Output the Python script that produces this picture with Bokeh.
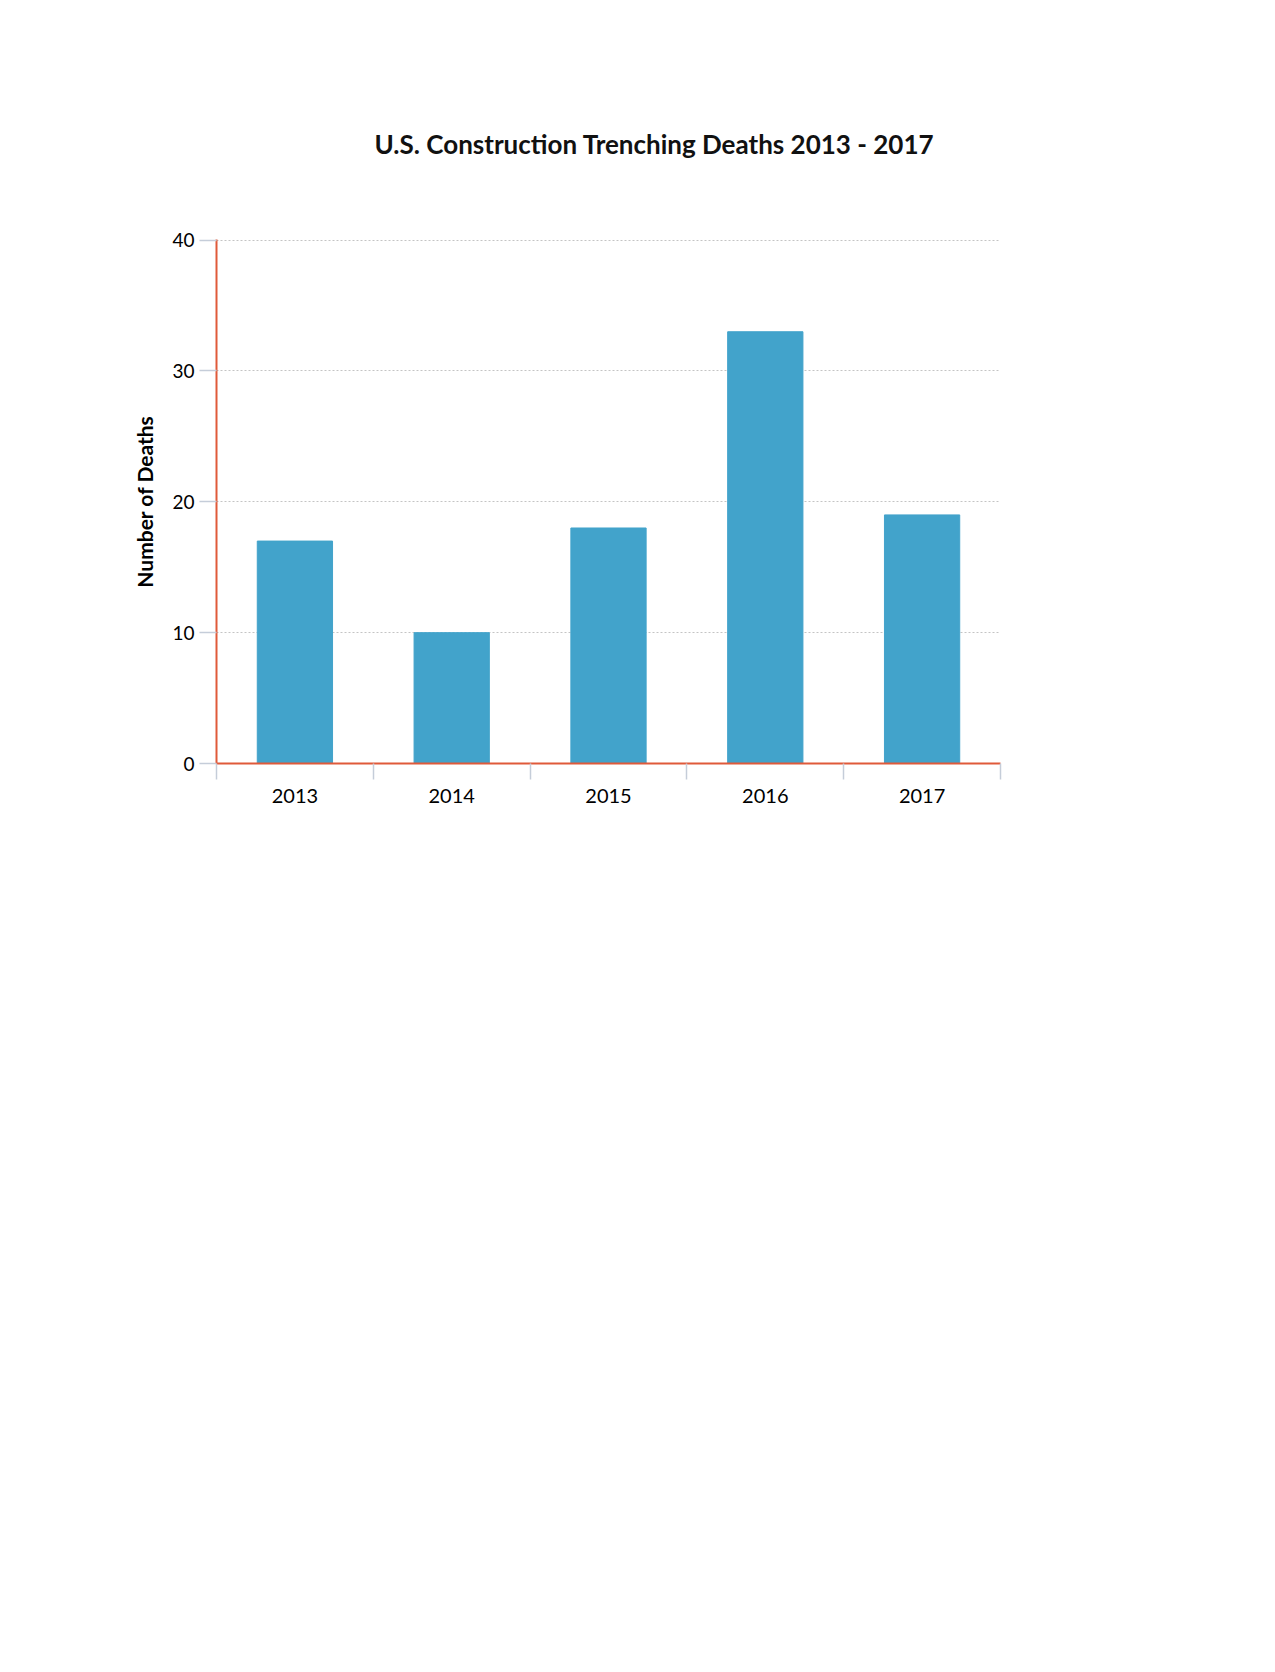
from bokeh.plotting import figure
from bokeh.models import Range1d, FixedTicker, SingleIntervalTicker
from bokeh.embed import file_html
from bokeh.resources import INLINE

# data
years = ["2013", "2014", "2015", "2016", "2017"]
deaths = [17, 10, 18, 33, 19]
y_ticks = [0, 10, 20, 30, 40]

title_text = "U.S. Construction Trenching Deaths 2013 - 2017"

FONT = "Lato"
BAR = "#42a3cb"
AXIS_RED = "#e05a3a"
TICK_GRAY = "#c5cdd9"

centers = [i + 0.5 for i in range(len(years))]
bounds = [i for i in range(len(years) + 1)]

p = figure(width=1255, height=1640,
           title=title_text,
           x_range=Range1d(0, len(years)),
           y_range=Range1d(y_ticks[0], y_ticks[-1] + 0.05),
           output_backend="svg", toolbar_location=None,
           min_border_left=216, min_border_right=255,
           min_border_top=239, min_border_bottom=877)

p.vbar(x=centers, top=deaths, width=0.48, color=BAR)

p.outline_line_color = None
p.background_fill_color = "white"

p.title.align = "left"
p.title.offset = 158
p.title.standoff = 160
p.title.text_font = FONT
p.title.text_font_style = "bold"
p.title.text_font_size = "26px"
p.title.text_color = "#111111"

# x axis: labels at bar centres, tick marks at category boundaries
xa = p.xaxis[0]
xa.ticker = FixedTicker(ticks=centers, minor_ticks=bounds)
xa.major_label_overrides = {c: y for c, y in zip(centers, years)}
xa.axis_line_color = AXIS_RED
xa.axis_line_width = 2
xa.major_tick_line_color = None
xa.major_tick_out = 0
xa.major_tick_in = 0
xa.minor_tick_line_color = TICK_GRAY
xa.minor_tick_line_width = 1.5
xa.minor_tick_out = 16
xa.minor_tick_in = 0
xa.major_label_standoff = 9
xa.major_label_text_font = FONT
xa.major_label_text_font_size = "20px"
xa.major_label_text_color = "#000000"

ya = p.yaxis[0]
ya.ticker = SingleIntervalTicker(interval=10)
ya.axis_line_color = AXIS_RED
ya.axis_line_width = 2
ya.major_tick_line_color = TICK_GRAY
ya.major_tick_line_width = 1.5
ya.major_tick_out = 17
ya.major_tick_in = 0
ya.minor_tick_line_color = None
ya.major_label_standoff = 5
ya.major_label_text_font = FONT
ya.major_label_text_font_size = "19px"
ya.major_label_text_color = "#000000"
ya.axis_label = "Number of Deaths"
ya.axis_label_text_font = FONT
ya.axis_label_text_font_style = "bold"
ya.axis_label_text_font_size = "21px"
ya.axis_label_text_color = "#000000"
ya.axis_label_standoff = 12

p.xgrid.grid_line_color = None
p.ygrid.ticker = SingleIntervalTicker(interval=10)
p.ygrid.grid_line_color = "#c4c4c4"
p.ygrid.grid_line_dash = "2 2"
p.ygrid.grid_line_width = 1

open("out.html", "w").write(file_html(p, INLINE))
